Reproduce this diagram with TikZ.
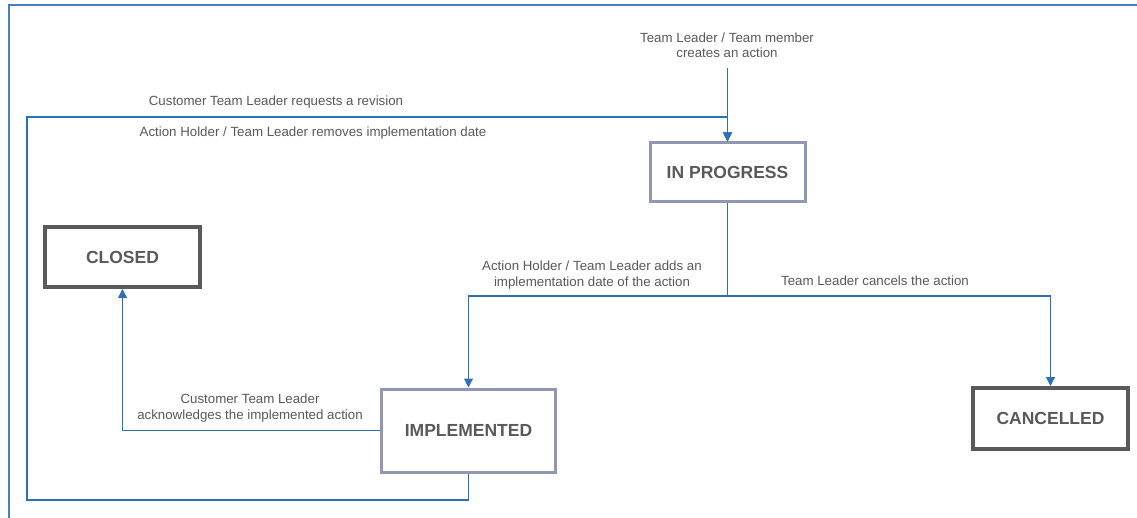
\documentclass[tikz,border=0pt]{standalone}
\usepackage{fontspec}
\setmainfont{Liberation Sans}
\usetikzlibrary{arrows.meta}
\definecolor{frameblue}{HTML}{4A7EBB}
\definecolor{linkblue}{HTML}{2E70B8}
\definecolor{txtgray}{HTML}{595959}
\definecolor{softframe}{HTML}{9197B2}
\definecolor{hardframe}{HTML}{5A5A5A}
\tikzset{
  state/.style={draw, fill=white, text=txtgray, font=\fontsize{17.5}{20}\selectfont\bfseries,
    inner sep=0pt, line join=miter},
  openstate/.style={state, draw=softframe, line width=3pt},
  finalstate/.style={state, draw=hardframe, line width=4pt},
  link/.style={draw=linkblue, line width=1.1pt},
  arr/.style={link, -{Triangle[width=9pt,length=9pt]}},
  lbl/.style={text=txtgray, font=\fontsize{13.3}{15.5}\selectfont, align=center, inner sep=0pt},
}
\begin{document}
\begin{tikzpicture}[x=1pt,y=-1pt]
  \useasboundingbox (0,0) rectangle (1137,518);
  % outer frame
  \draw[frameblue, line width=2pt] (1137,5) -- (9,5) -- (9,520);

  % states
  \node[openstate, minimum width=155pt, minimum height=59pt] (inprog) at (727.5,172.5) {IN PROGRESS};
  \node[openstate, minimum width=174pt, minimum height=83pt] (impl) at (468.5,430.5) {IMPLEMENTED};
  \node[finalstate, minimum width=155pt, minimum height=60pt] (closed) at (122.5,257) {CLOSED};
  \node[finalstate, minimum width=155pt, minimum height=61pt] (cancel) at (1050.5,418.5) {CANCELLED};

  % helper points of the routed links
  \coordinate (start) at (727.5,68);
  \coordinate (split) at (727.5,296);
  \coordinate (loopbl) at (27,500);
  \coordinate (looptl) at (27,117);

  % creation
  \draw[arr] (start) -- (inprog.north);
  % revision loop back to IN PROGRESS
  \draw[arr] (impl.south) |- (loopbl) -- (looptl) -| (inprog.north);
  % branch to IMPLEMENTED / CANCELLED
  \draw[link] (inprog.south) -- (split);
  \draw[arr] (split) -| (impl.north);
  \draw[arr] (split) -| (cancel.north);
  % acknowledgement
  \draw[arr] (impl.west) -| (closed.south);

  % labels
  \node[lbl] (lcreate) at (727,45.5) {Team Leader / Team member\\creates an action};
  \node[lbl] (lrev) at (276,102) {Customer Team Leader requests a revision};
  \node[lbl] (lremove) at (313,133) {Action Holder / Team Leader removes implementation date};
  \node[lbl] (ladd) at (592,275) {Action Holder / Team Leader adds an\\implementation date of the action};
  \node[lbl] (lcancel) at (875,281) {Team Leader cancels the action};
  \node[lbl] (lack) at (250,408) {Customer Team Leader\\acknowledges the implemented action};
\end{tikzpicture}
\end{document}
